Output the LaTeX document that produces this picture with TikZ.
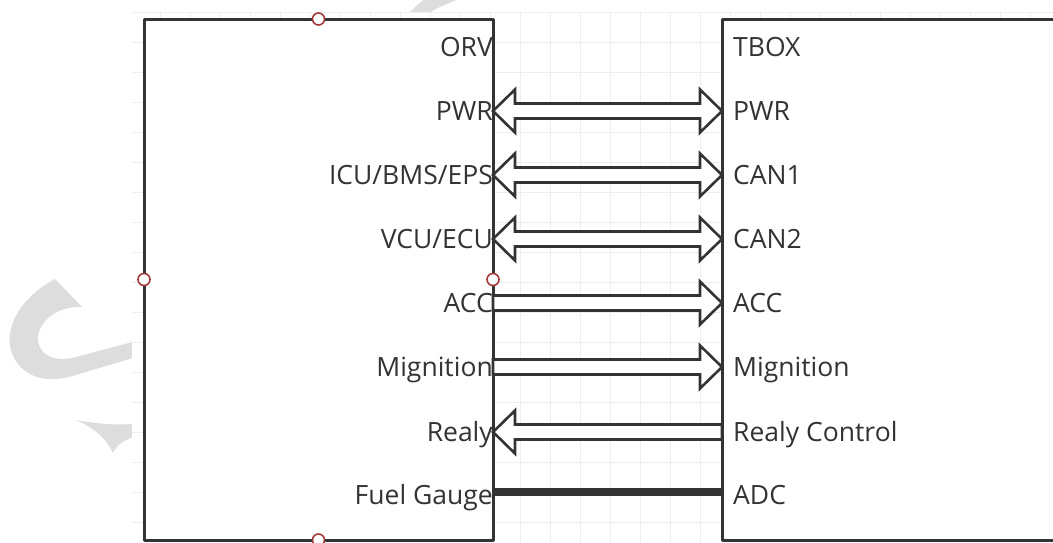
\documentclass[tikz,border=0pt]{standalone}
\usepackage{fontspec}
\setmainfont{Open Sans}
\usetikzlibrary{calc}

\definecolor{inkgray}{HTML}{333333}
\definecolor{portred}{HTML}{A33A3A}
\definecolor{gridgray}{HTML}{EEEEEE}
\definecolor{markgray}{HTML}{DDDDDD}

\tikzset{
	blockbox/.style={draw=inkgray, line width=3pt, fill=white, inner sep=0pt, outer sep=0pt},
	portlabel/.style={text=inkgray, font=\fontsize{26.5}{30}\selectfont, inner sep=0pt, yshift=-9.3pt},
	portdot/.style={circle, draw=portred, line width=1.6pt, fill=white, minimum size=12pt, inner sep=0pt},
	fatarrow/.style={draw=inkgray, line width=2.6pt, fill=white, line join=miter},
	gridline/.style={draw=gridgray, line width=1pt},
}

% fat arrows: #1 left port, #2 right port
\newcommand\bothway[2]{%
	\draw[fatarrow] (#1) -- ++(22,-21.5) -- ++(0,14) -- ($(#2)+(-22,-7.5)$) -- ++(0,-14) -- (#2)
		-- ++(-22,21.5) -- ++(0,-14) -- ($(#1)+(22,7.5)$) -- ++(0,14) -- cycle;}
\newcommand\toright[2]{%
	\draw[fatarrow] ($(#1)+(0,-7.5)$) -- ($(#2)+(-22,-7.5)$) -- ++(0,-14) -- (#2)
		-- ++(-22,21.5) -- ++(0,-14) -- ($(#1)+(0,7.5)$) -- cycle;}
\newcommand\toleft[2]{%
	\draw[fatarrow] (#1) -- ++(22,-21.5) -- ++(0,14) -- ($(#2)+(0,-7.5)$) -- ++(0,15)
		-- ($(#1)+(22,7.5)$) -- ++(0,14) -- cycle;}

\begin{document}
\begin{tikzpicture}[x=1pt, y=-1pt, line join=round]
	\useasboundingbox (0,0) rectangle (1053,542);
	\clip (0,0) rectangle (1053,542);

	% watermark
	\fill[markgray] (55,279) .. controls (30,292) and (6,318) .. (10,346)
		.. controls (15,372) and (40,386) .. (72,376) -- (140,356) -- (140,340) -- (76,357)
		.. controls (52,364) and (36,352) .. (38,336) .. controls (41,318) and (60,306) .. (82,307) -- cycle;
	\fill[markgray] (76,420) .. controls (100,424) and (120,426) .. (140,423) -- (140,436)
		.. controls (126,438) and (117,444) .. (113,453) .. controls (106,438) and (94,428) .. (76,420) -- cycle;
	\draw[markgray, line width=14pt] (414,18) .. controls (428,4) .. (458,-8);

	% grid
	\fill[white] (132,12) rectangle (1053,542);
	\foreach \gy in {12,42,...,540} \draw[gridline] (132,\gy) -- (1053,\gy);
	\foreach \gx in {160,190,...,1050} \draw[gridline] (\gx,12) -- (\gx,542);

	% blocks
	\node[blockbox, anchor=north west, minimum width=349pt, minimum height=521pt] (orv) at (144,19) {};
	\node[blockbox, anchor=north west, minimum width=360pt, minimum height=521pt] (tbox) at (722,19) {};

	% ports
	\foreach \row/\yy in {0/47,1/111,2/175,3/239,4/303,5/367,6/432,7/495}{
		\coordinate (l\row) at (orv.east |- 0,\yy);
		\coordinate (r\row) at (tbox.west |- 0,\yy);
	}

	\node[portlabel, anchor=base east] (lorv) at (l0) {ORV};
	\node[portlabel, anchor=base east] (lpwr) at (l1) {PWR};
	\node[portlabel, anchor=base east] (licu) at (l2) {ICU/BMS/EPS};
	\node[portlabel, anchor=base east] (lvcu) at (l3) {VCU/ECU};
	\node[portlabel, anchor=base east] (lacc) at (l4) {ACC};
	\node[portlabel, anchor=base east] (lign) at (l5) {Mignition};
	\node[portlabel, anchor=base east] (lrly) at (l6) {Realy};
	\node[portlabel, anchor=base east] (lfuel) at (l7) {Fuel Gauge};

	\node[portlabel, anchor=base west, xshift=11pt] (rtbox) at (r0) {TBOX};
	\node[portlabel, anchor=base west, xshift=11pt] (rpwr) at (r1) {PWR};
	\node[portlabel, anchor=base west, xshift=11pt] (rcan1) at (r2) {CAN1};
	\node[portlabel, anchor=base west, xshift=11pt] (rcan2) at (r3) {CAN2};
	\node[portlabel, anchor=base west, xshift=11pt] (racc) at (r4) {ACC};
	\node[portlabel, anchor=base west, xshift=11pt] (rign) at (r5) {Mignition};
	\node[portlabel, anchor=base west, xshift=11pt] (rrly) at (r6) {Realy Control};
	\node[portlabel, anchor=base west, xshift=11pt] (radc) at (r7) {ADC};

	% links
	\bothway{l1}{r1}
	\bothway{l2}{r2}
	\bothway{l3}{r3}
	\toright{l4}{r4}
	\toright{l5}{r5}
	\toleft{l6}{r6}
	\draw[inkgray, line width=8pt] ($(l7)+(0,-3)$) -- ($(r7)+(0,-3)$);

	% connection points
	\node[portdot] (dtop) at (orv.north) {};
	\node[portdot] (dleft) at (orv.west) {};
	\node[portdot] (dright) at (orv.east) {};
	\node[portdot] (dbottom) at (orv.south) {};
\end{tikzpicture}
\end{document}
